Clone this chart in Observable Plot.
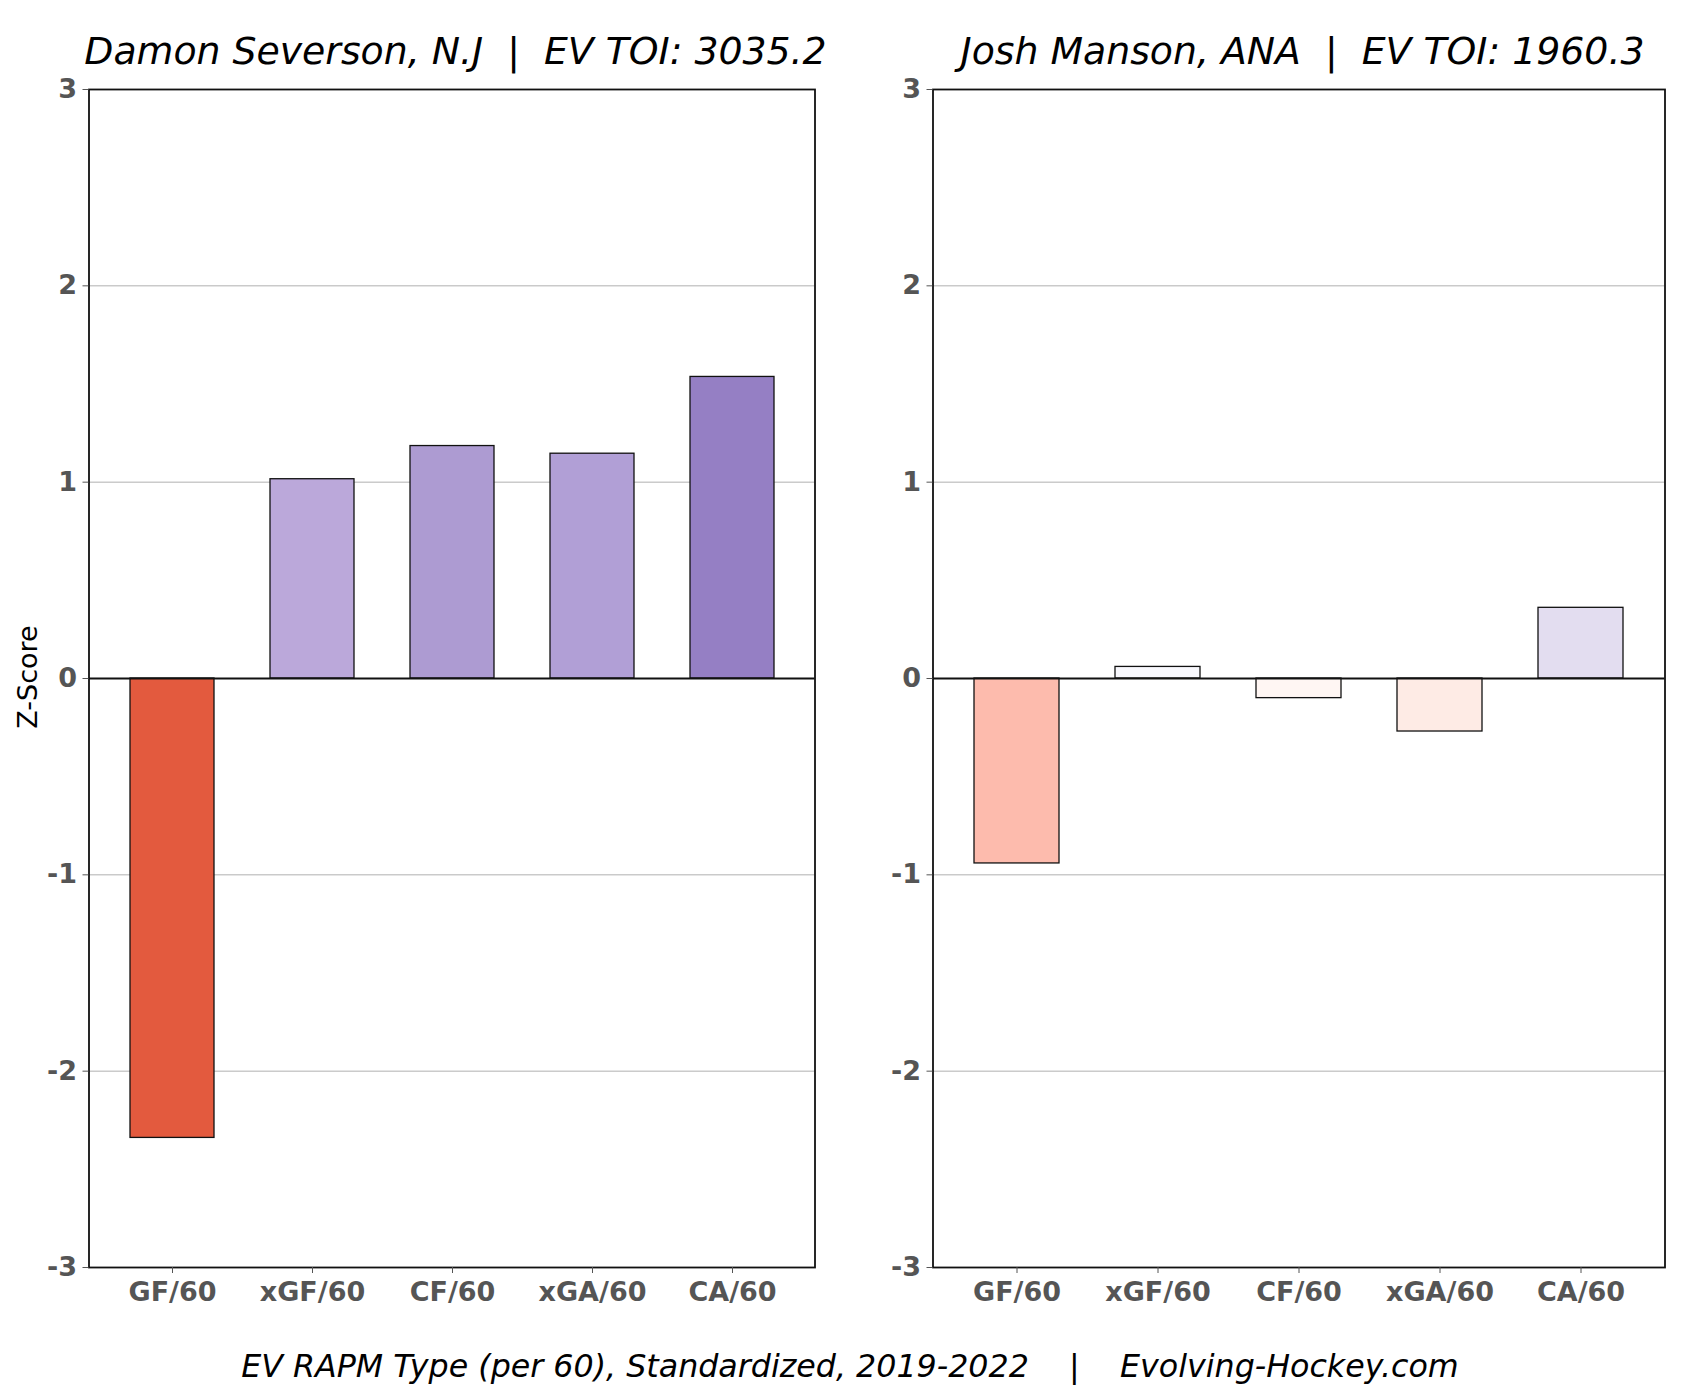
<!DOCTYPE html>
<html>
<head>
<meta charset="utf-8">
<script src="https://cdn.jsdelivr.net/npm/d3@7"></script>
<script src="https://cdn.jsdelivr.net/npm/@observablehq/plot@0.6"></script>
<style>
  html, body { margin: 0; padding: 0; background: #fff; }
  #page { position: relative; width: 1700px; height: 1400px; overflow: hidden; font-family: "DejaVu Sans", sans-serif; }
  .panel { position: absolute; top: 0; }
  .title { position: absolute; font-style: italic; font-size: 37.8px; line-height: 1; text-align: center; white-space: pre; color: #000; }
  .caption { position: absolute; left: 0; width: 1700px; top: 1351px; font-style: italic; font-size: 31.7px; line-height: 1; text-align: center; white-space: pre; color: #000; }
  .ylabel { position: absolute; left: 27px; top: 677px; font-size: 27px; line-height: 1; white-space: pre; transform: translate(-50%, -50%) rotate(-90deg); color: #000; }
</style>
</head>
<body>
<div id="page"></div>
<script>
const categories = ["GF/60", "xGF/60", "CF/60", "xGA/60", "CA/60"];
const seversonValues = [-2.34, 1.015, 1.184, 1.145, 1.536];
const mansonValues = [-0.942, 0.059, -0.10, -0.27, 0.36];
const seversonColors = ["#e35a3e", "#bba8da", "#ad9bd2", "#b19fd6", "#957fc4"];
const mansonColors = ["#fdbbad", "#f8f8fd", "#fff6f3", "#feebe5", "#e3ddf0"];
const yTicks = [-3, -2, -1, 0, 1, 2, 3];
const gridTicks = [-2, -1, 1, 2];
const titles = ["Damon Severson, N.J  |  EV TOI: 3035.2", "Josh Manson, ANA  |  EV TOI: 1960.3"];
const captionText = "EV RAPM Type (per 60), Standardized, 2019-2022    |    Evolving-Hockey.com";

const page = document.getElementById("page");

function panel(values, colors, marginLeft, marginRight) {
  const data = categories.map((c, i) => ({cat: c, value: values[i], color: colors[i]}));
  return Plot.plot({
    width: 850,
    height: 1320,
    marginLeft,
    marginRight,
    marginTop: 89,
    marginBottom: 53,
    style: {fontFamily: "DejaVu Sans", fontSize: "27px", fontWeight: "bold", color: "#555", background: "transparent"},
    x: {type: "band", domain: categories, paddingInner: 0.4, paddingOuter: 0.29, label: null},
    y: {domain: [-3, 3], label: null},
    color: {type: "identity"},
    marks: [
      Plot.gridY(gridTicks, {stroke: "#b0b0b0", strokeOpacity: 1, strokeWidth: 1}),
      Plot.barY(data, {x: "cat", y: "value", fill: "color", stroke: "#111", strokeWidth: 1.3}),
      Plot.ruleY([0], {stroke: "#111", strokeWidth: 2.2}),
      Plot.frame({stroke: "#111", strokeWidth: 1.8}),
      Plot.axisY(yTicks, {tickSize: 6, tickPadding: 6, tickFormat: d => String(d), label: null}),
      Plot.axisX({tickSize: 6, tickPadding: 8, label: null})
    ]
  });
}

const frames = [
  {left: 0, ml: 88.5, mr: 35.5, values: seversonValues, colors: seversonColors},
  {left: 850, ml: 82.5, mr: 35.5, values: mansonValues, colors: mansonColors}
];

frames.forEach((f, i) => {
  const wrap = document.createElement("div");
  wrap.className = "panel";
  wrap.style.left = f.left + "px";
  wrap.appendChild(panel(f.values, f.colors, f.ml, f.mr));
  page.appendChild(wrap);

  const t = document.createElement("div");
  t.className = "title";
  const fl = f.left + f.ml;
  const fw = 850 - f.ml - f.mr;
  t.style.left = (fl - 100 + 4) + "px";
  t.style.width = (fw + 200) + "px";
  t.style.top = "33px";
  t.textContent = titles[i];
  page.appendChild(t);
});

const yl = document.createElement("div");
yl.className = "ylabel";
yl.textContent = "Z-Score";
page.appendChild(yl);

const cap = document.createElement("div");
cap.className = "caption";
cap.textContent = captionText;
page.appendChild(cap);
</script>
</body>
</html>
